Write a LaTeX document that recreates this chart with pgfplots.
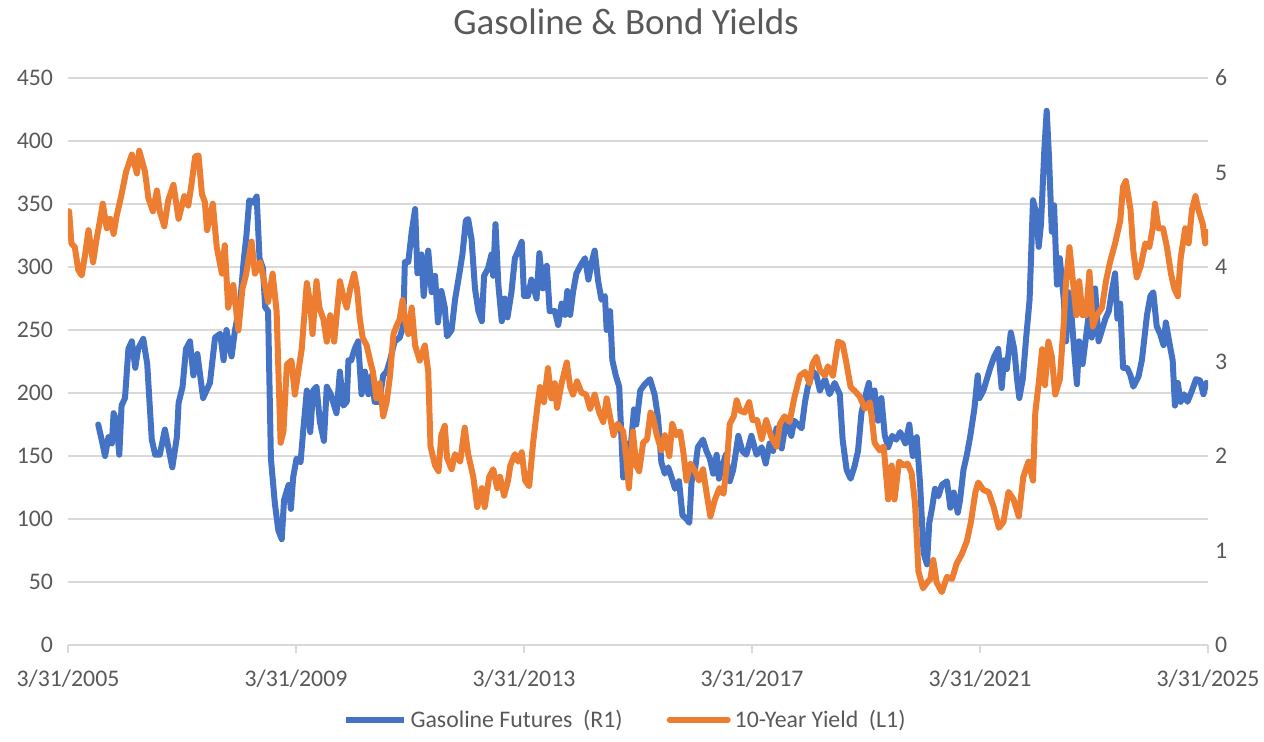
\documentclass[border=0pt]{standalone}
\usepackage{fontspec}
\setmainfont{Carlito}
\usepackage{pgfplots}
\pgfplotsset{compat=1.18}
\definecolor{blueline}{HTML}{4472C4}
\definecolor{orangeline}{HTML}{ED7D31}
\definecolor{textgray}{HTML}{595959}
\definecolor{gridgray}{HTML}{D9D9D9}
\pgfplotsset{
  common/.style={
    scale only axis, width=570pt, height=283.5pt,
    at={(0,0)}, anchor=south west,
    xmin=2005.25, xmax=2025.25,
    /pgf/number format/assume math mode=true,
    ticklabel style={font=\fontsize{11.9}{14}\selectfont, text=textgray},
    ytick style={draw=none},
  }
}
\begin{document}
\begin{tikzpicture}
\useasboundingbox (-34pt,-48pt) rectangle (598pt,322.5pt);
\begin{axis}[common,
  xtick={2005.25,2009.25,2013.25,2017.25,2021.25,2025.25},
  xticklabels={3/31/2005,3/31/2009,3/31/2013,3/31/2017,3/31/2021,3/31/2025},
  xticklabel style={yshift=-5pt},
  ymin=0, ymax=450, ytick={0,50,...,450},
  axis x line*=bottom, axis y line*=left,
  x axis line style={gridgray, line width=1pt, -},
  y axis line style={draw=none},
  ymajorgrids, grid style={gridgray, line width=1pt},
  tick align=outside, major tick length=4pt,
  xtick style={gridgray, line width=1pt},
  title={Gasoline \& Bond Yields},
  title style={font=\fontsize{18.5}{22}\selectfont, text=textgray, at={(axis description cs:0.4895,1)}, anchor=center, yshift=22pt},
]
\addplot[blueline, line width=3pt, line join=round, line cap=round] coordinates {
(2005.78,175)(2005.84,163)(2005.90,150)(2005.96,165)(2006.02,160)(2006.05,184)(2006.10,178)(2006.15,151)(2006.19,190)(2006.25,196)(2006.31,235)(2006.37,241)(2006.43,220)(2006.48,235)(2006.57,243)(2006.64,223)(2006.72,163)(2006.78,151)(2006.86,151)(2006.95,171)(2007.01,157)(2007.08,141)(2007.16,165)(2007.19,192)(2007.26,205)(2007.32,235)(2007.39,241)(2007.45,214)(2007.52,231)(2007.62,196)(2007.74,208)(2007.83,244)(2007.92,247)(2007.98,226)(2008.03,250)(2008.12,229)(2008.18,250)(2008.27,271)(2008.33,304)(2008.38,325)(2008.43,353)(2008.50,351)(2008.56,356)(2008.61,307)(2008.67,299)(2008.71,268)(2008.76,265)(2008.81,148)(2008.88,112)(2008.94,91)(2009.00,84)(2009.04,115)(2009.12,127)(2009.16,108)(2009.20,133)(2009.26,148)(2009.33,145)(2009.38,172)(2009.44,202)(2009.50,169)(2009.55,202)(2009.61,205)(2009.67,177)(2009.74,162)(2009.79,205)(2009.86,199)(2009.96,184)
(2010.02,217)(2010.08,190)(2010.14,193)(2010.17,226)(2010.22,226)(2010.28,235)(2010.34,241)(2010.40,199)(2010.46,217)(2010.52,199)(2010.58,214)(2010.63,193)(2010.71,193)(2010.78,214)(2010.84,217)(2010.90,226)(2010.98,241)(2011.07,244)(2011.13,253)(2011.16,304)(2011.22,304)(2011.28,328)(2011.34,346)(2011.38,295)(2011.45,310)(2011.49,277)(2011.57,313)(2011.63,280)(2011.69,293)(2011.74,256)(2011.80,281)(2011.86,268)(2011.90,245)(2011.98,250)(2012.04,274)(2012.11,293)(2012.17,310)(2012.23,337)(2012.27,338)(2012.33,322)(2012.39,283)(2012.45,265)(2012.51,257)(2012.55,293)(2012.62,299)(2012.68,310)(2012.71,293)(2012.75,334)(2012.80,286)(2012.86,257)(2012.91,275)(2012.96,260)(2013.03,280)(2013.09,307)(2013.15,313)(2013.21,320)(2013.25,277)(2013.32,277)(2013.38,290)(2013.47,275)(2013.52,311)(2013.58,283)(2013.65,301)(2013.70,265)(2013.79,265)(2013.85,254)(2013.91,271)(2013.97,262)(2014.01,281)(2014.06,262)(2014.11,280)(2014.17,295)(2014.24,301)(2014.32,307)(2014.38,290)(2014.44,304)(2014.49,313)(2014.55,289)(2014.61,274)(2014.67,277)(2014.70,250)(2014.76,265)(2014.80,226)(2014.86,214)(2014.92,205)
(2014.99,133)(2015.05,160)(2015.11,151)(2015.18,187)(2015.22,175)(2015.29,202)(2015.37,207)(2015.46,211)(2015.54,199)(2015.60,181)(2015.66,145)(2015.72,136)(2015.78,141)(2015.84,133)(2015.90,124)(2015.97,130)(2016.03,103)(2016.10,100)(2016.15,97)(2016.19,130)(2016.25,139)(2016.30,157)(2016.39,163)(2016.45,154)(2016.51,148)(2016.57,136)(2016.63,151)(2016.67,132)(2016.71,139)(2016.79,151)(2016.86,130)(2016.92,139)(2017.01,166)(2017.08,154)(2017.15,151)(2017.24,166)(2017.33,151)(2017.42,157)(2017.49,144)(2017.56,160)(2017.62,154)(2017.68,172)(2017.77,156)(2017.85,178)(2017.94,166)(2017.99,178)(2018.12,172)(2018.18,193)(2018.23,205)(2018.32,217)(2018.38,214)(2018.44,202)(2018.53,211)(2018.61,199)(2018.70,208)(2018.79,199)(2018.84,163)(2018.91,139)(2018.98,132)(2019.05,142)(2019.11,154)(2019.17,184)(2019.23,196)(2019.30,208)(2019.35,187)(2019.40,202)(2019.46,178)(2019.52,196)(2019.58,166)(2019.64,157)(2019.71,166)(2019.78,163)
(2019.85,169)(2019.94,160)(2020.01,175)(2020.07,150)(2020.14,165)(2020.20,127)(2020.26,73)(2020.32,64)(2020.36,97)(2020.41,109)(2020.46,124)(2020.52,118)(2020.58,127)(2020.67,130)(2020.73,109)(2020.79,121)(2020.86,105)(2020.90,115)(2020.96,139)(2021.02,151)(2021.08,166)(2021.15,187)(2021.21,214)(2021.24,196)(2021.31,202)(2021.37,211)(2021.43,220)(2021.50,229)(2021.57,235)(2021.63,204)(2021.67,226)(2021.72,219)(2021.79,248)(2021.85,235)(2021.90,211)(2021.94,196)(2022.00,211)(2022.06,244)(2022.12,274)(2022.18,353)(2022.24,342)(2022.28,316)(2022.32,334)(2022.38,394)(2022.42,424)(2022.46,388)(2022.51,328)(2022.55,349)(2022.60,286)(2022.65,307)(2022.72,274)(2022.76,241)(2022.80,280)(2022.86,259)(2022.90,235)(2022.95,207)(2022.99,241)(2023.05,223)(2023.10,241)(2023.15,259)(2023.21,244)(2023.27,283)(2023.33,241)(2023.39,250)(2023.45,259)(2023.51,265)(2023.56,280)(2023.62,295)(2023.66,259)(2023.71,271)(2023.76,220)(2023.83,220)(2023.89,214)(2023.94,205)(2024.03,213)(2024.09,226)(2024.18,262)(2024.24,277)(2024.29,280)(2024.35,253)(2024.41,247)(2024.47,238)(2024.51,256)(2024.58,238)(2024.63,226)(2024.67,190)(2024.72,208)(2024.77,193)(2024.83,199)(2024.89,193)(2024.97,202)(2025.04,211)(2025.11,210)(2025.17,199)(2025.22,208)
};
\end{axis}
\begin{axis}[common,
  ymin=0, ymax=6, ytick={0,1,...,6},
  axis x line=none, axis y line*=right,
  y axis line style={draw=none},
  legend columns=2,
  legend style={at={(0.4895,-0.132)}, anchor=center, draw=none, fill=none,
    font=\fontsize{11.9}{14}\selectfont, text=textgray,
    /tikz/every even column/.append style={column sep=20pt}},
  legend image code/.code={\draw[#1] (0pt,0pt) -- (29pt,0pt);},
]
\addlegendimage{blueline, line width=3pt}
\addlegendentry{Gasoline Futures\ \ (R1)}
\addplot[orangeline, line width=3pt, line join=round, line cap=round] coordinates {
(2005.27,4.59)(2005.31,4.25)(2005.37,4.21)(2005.43,3.97)(2005.49,3.91)(2005.55,4.13)(2005.61,4.39)(2005.69,4.05)(2005.75,4.29)(2005.81,4.49)(2005.86,4.67)(2005.93,4.41)(2005.99,4.51)(2006.05,4.35)(2006.10,4.53)(2006.19,4.77)(2006.27,5.01)(2006.37,5.19)(2006.46,4.99)(2006.50,5.23)(2006.60,5.01)(2006.66,4.73)(2006.74,4.59)(2006.81,4.81)(2006.86,4.59)(2006.94,4.43)(2007.01,4.71)(2007.10,4.87)(2007.19,4.51)(2007.29,4.75)(2007.36,4.65)(2007.42,4.89)(2007.48,5.17)(2007.54,5.18)(2007.60,4.77)(2007.65,4.69)(2007.69,4.39)(2007.79,4.67)(2007.86,4.21)(2007.95,3.93)(2008.00,4.23)(2008.06,3.57)(2008.15,3.81)(2008.24,3.33)(2008.31,3.77)(2008.37,3.91)(2008.47,4.27)(2008.53,3.93)(2008.62,4.05)(2008.69,3.85)(2008.76,3.63)(2008.84,3.93)(2008.91,3.53)(2008.94,2.93)(2008.98,2.14)(2009.03,2.26)(2009.09,2.97)(2009.17,3.01)(2009.23,2.65)(2009.29,2.89)(2009.35,3.13)(2009.44,3.83)(2009.50,3.61)(2009.54,3.29)(2009.61,3.85)(2009.66,3.57)(2009.73,3.45)(2009.79,3.21)(2009.85,3.49)(2009.92,3.21)
(2010.02,3.85)(2010.08,3.69)(2010.14,3.57)(2010.20,3.77)(2010.27,3.93)(2010.32,3.77)(2010.37,3.45)(2010.42,3.25)(2010.49,3.17)(2010.55,3.01)(2010.60,2.89)(2010.66,2.61)(2010.72,2.77)(2010.78,2.42)(2010.84,2.57)(2010.90,2.85)(2010.96,3.29)(2011.01,3.37)(2011.07,3.45)(2011.12,3.65)(2011.16,3.45)(2011.22,3.29)(2011.28,3.57)(2011.34,3.17)(2011.42,3.01)(2011.51,3.17)(2011.57,2.89)(2011.61,2.10)(2011.69,1.90)(2011.75,1.84)(2011.80,2.22)(2011.86,2.32)(2011.90,1.98)(2011.98,1.86)(2012.04,2.02)(2012.13,1.94)(2012.21,2.30)(2012.27,2.02)(2012.36,1.78)(2012.43,1.46)(2012.51,1.66)(2012.56,1.46)(2012.64,1.78)(2012.71,1.86)(2012.78,1.66)(2012.83,1.78)(2012.90,1.58)(2012.97,1.74)(2013.01,1.90)(2013.09,2.02)(2013.15,1.94)(2013.21,2.04)(2013.27,1.74)(2013.34,1.68)(2013.41,2.14)(2013.48,2.50)(2013.53,2.73)(2013.60,2.57)(2013.67,2.93)(2013.73,2.61)(2013.79,2.77)(2013.83,2.51)(2013.91,2.77)(2014.00,2.99)(2014.06,2.73)(2014.11,2.65)(2014.18,2.79)(2014.26,2.67)(2014.34,2.65)(2014.41,2.50)(2014.49,2.65)(2014.57,2.46)(2014.64,2.36)(2014.70,2.61)(2014.77,2.38)(2014.82,2.22)(2014.89,2.34)
(2014.99,2.26)(2015.05,1.94)(2015.09,1.66)(2015.16,2.26)(2015.22,1.90)(2015.27,1.84)(2015.34,2.14)(2015.41,2.18)(2015.47,2.46)(2015.51,2.42)(2015.58,2.22)(2015.66,2.06)(2015.72,2.22)(2015.80,2.00)(2015.85,2.34)(2015.92,2.22)(2015.99,2.26)(2016.05,2.02)(2016.10,1.74)(2016.17,1.92)(2016.25,1.84)(2016.32,1.74)(2016.39,1.86)(2016.46,1.58)(2016.52,1.36)(2016.60,1.54)(2016.68,1.66)(2016.75,1.60)(2016.80,1.86)(2016.86,2.34)(2016.93,2.42)(2016.98,2.59)(2017.04,2.48)(2017.12,2.46)(2017.20,2.57)(2017.26,2.38)(2017.34,2.38)(2017.42,2.18)(2017.50,2.38)(2017.59,2.20)(2017.68,2.10)(2017.74,2.34)(2017.82,2.42)(2017.91,2.36)(2017.99,2.61)(2018.09,2.85)(2018.18,2.89)(2018.26,2.77)(2018.31,2.97)(2018.38,3.05)(2018.44,2.91)(2018.53,2.85)(2018.58,2.95)(2018.67,2.85)(2018.76,3.21)(2018.84,3.19)(2018.91,2.97)(2018.98,2.73)(2019.05,2.69)(2019.14,2.63)(2019.23,2.50)(2019.32,2.57)(2019.40,2.14)(2019.49,2.06)(2019.56,2.10)(2019.64,1.54)(2019.70,1.90)(2019.75,1.54)(2019.83,1.94)
(2019.92,1.90)(2019.98,1.92)(2020.05,1.82)(2020.11,1.50)(2020.17,0.78)(2020.25,0.60)(2020.32,0.66)(2020.38,0.70)(2020.43,0.90)(2020.49,0.66)(2020.58,0.56)(2020.67,0.72)(2020.76,0.70)(2020.84,0.86)(2020.93,0.96)(2021.02,1.10)(2021.09,1.30)(2021.17,1.62)(2021.22,1.72)(2021.31,1.64)(2021.40,1.62)(2021.49,1.46)(2021.58,1.24)(2021.66,1.30)(2021.75,1.62)(2021.84,1.54)(2021.93,1.36)(2022.01,1.78)(2022.10,1.94)(2022.18,1.74)(2022.22,2.46)(2022.28,2.77)(2022.34,3.13)(2022.39,2.75)(2022.45,3.21)(2022.51,3.05)(2022.57,2.65)(2022.65,2.81)(2022.72,3.41)(2022.76,3.85)(2022.82,4.21)(2022.88,3.85)(2022.94,3.49)(2022.99,3.85)(2023.05,3.49)(2023.11,3.49)(2023.17,3.95)(2023.23,3.37)(2023.30,3.49)(2023.39,3.57)(2023.46,3.85)(2023.53,4.05)(2023.62,4.25)(2023.71,4.49)(2023.76,4.85)(2023.81,4.91)(2023.89,4.61)(2023.94,4.17)(2024.00,3.89)(2024.07,4.01)(2024.15,4.25)(2024.22,4.21)(2024.28,4.41)(2024.32,4.67)(2024.38,4.41)(2024.46,4.41)(2024.53,4.21)(2024.60,3.93)(2024.66,3.77)(2024.72,3.69)(2024.77,4.09)(2024.85,4.41)(2024.91,4.25)(2024.97,4.61)(2025.03,4.75)(2025.08,4.61)(2025.16,4.45)(2025.20,4.25)(2025.23,4.37)
};
\addlegendentry{10-Year Yield\ \ (L1)}
\end{axis}
\end{tikzpicture}
\end{document}
